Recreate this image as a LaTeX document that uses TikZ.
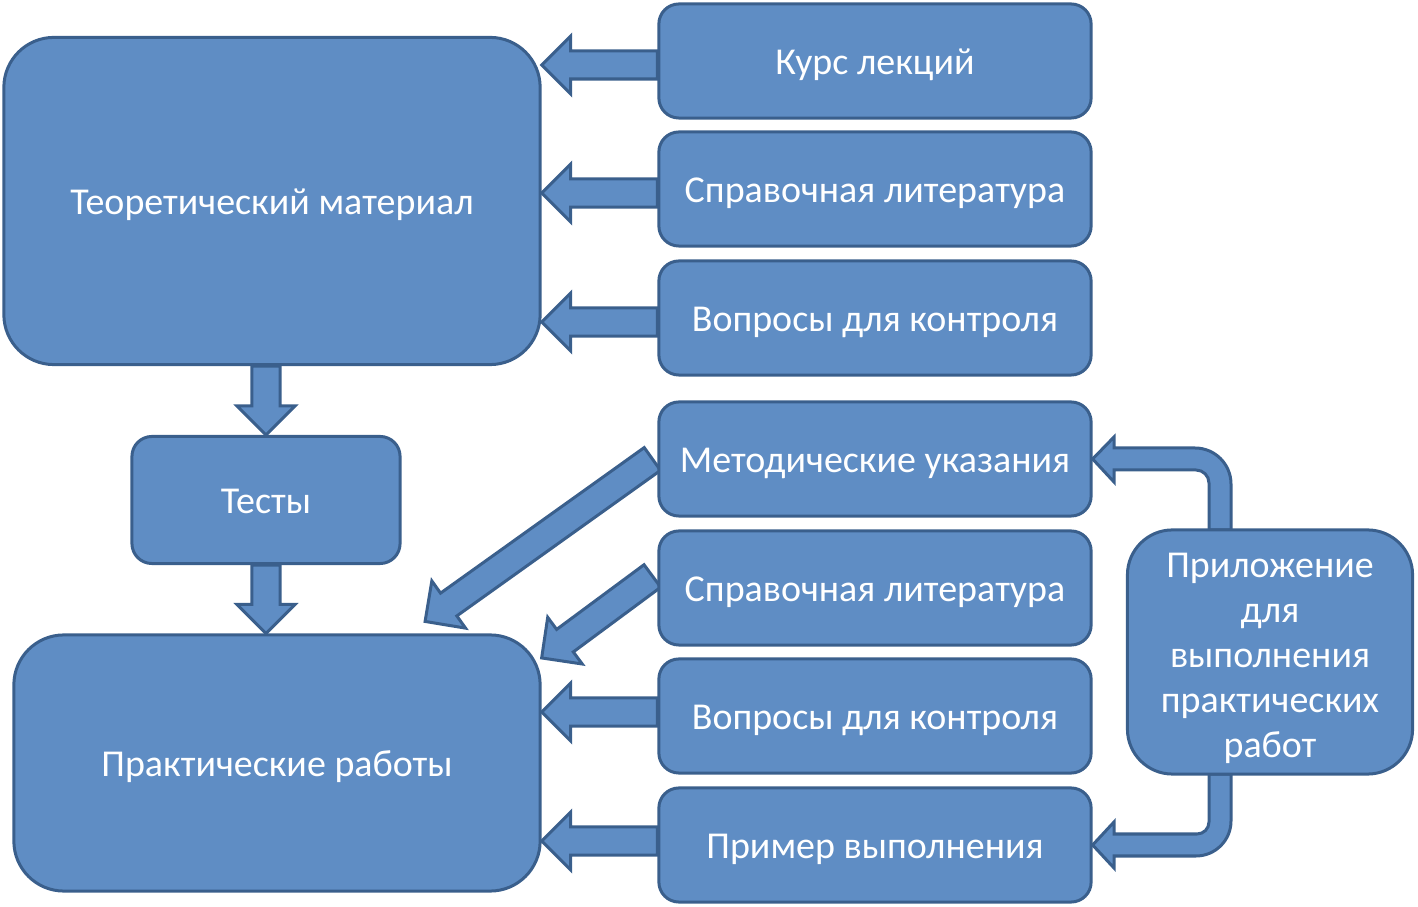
\documentclass[tikz,border=0pt]{standalone}
\usepackage{fontspec}
\setmainfont{Carlito}
\usetikzlibrary{calc,backgrounds}

\definecolor{boxfill}{RGB}{95,141,196}
\definecolor{boxline}{RGB}{58,95,140}

\tikzset{
  blk/.style={draw=boxline, fill=boxfill, line width=0.03cm, text=white, align=center,
    rounded corners=0.2cm, minimum width=4.32cm, minimum height=1.14cm, inner sep=0pt,
    text height=9.9pt, text depth=2.5pt},
  bigblk/.style={blk, rounded corners=0.5cm},
  barrow/.style={draw=boxline, fill=boxfill, line width=0.03cm, line join=miter},
}

\newcommand{\blockarrow}[2]{%
  \coordinate (bh) at ($(#2)!0.29cm!(#1)$);
  \filldraw[barrow] ($(#1)!0.14cm!90:(#2)$) -- ($(bh)!0.14cm!90:(#2)$) -- ($(bh)!0.29cm!90:(#2)$)
    -- (#2) -- ($(bh)!0.29cm!-90:(#2)$) -- ($(bh)!0.14cm!-90:(#2)$) -- ($(#1)!0.14cm!-90:(#2)$) -- cycle;}

\begin{document}
\begin{tikzpicture}[x=0.01cm, y=-0.01cm, every node/.style={font=\fontsize{10.8pt}{12.8pt}\selectfont}]

\useasboundingbox (0,0) rectangle (1418,907);

\node[bigblk, minimum width=5.36cm, minimum height=3.27cm] (theory) at (272,201) {Теоретический материал};
\node[blk, minimum width=2.68cm, minimum height=1.27cm] (tests) at (266,500) {Тесты};
\node[bigblk, minimum width=5.26cm, minimum height=2.56cm] (practice) at (277,763) {Практические работы};

\node[blk] (lect) at (875,61) {Курс лекций};
\node[blk] (ref1) at (875,189) {Справочная литература};
\node[blk] (quest1) at (875,318) {Вопросы для контроля};
\node[blk] (guide) at (875,459) {Методические указания};
\node[blk] (ref2) at (875,588) {Справочная литература};
\node[blk] (quest2) at (875,716) {Вопросы для контроля};
\node[blk] (sample) at (875,845) {Пример выполнения};

\node[blk, rounded corners=0.45cm, minimum width=2.85cm, minimum height=2.44cm] (app) at (1270,652) {};
\node[text=white, align=center, inner sep=0pt] (apptext) at ([yshift=-0.06cm]app.center)
  {Приложение\\для\\выполнения\\практических\\работ};

\begin{scope}[on background layer]
\foreach \src/\dst/\dy in {lect/theory/-0.04, ref1/theory/-0.04, quest1/theory/-0.04,
    quest2/practice/0.04, sample/practice/0.04} {
  \coordinate (tl) at ([yshift=\dy cm]\src.west);
  \coordinate (tp) at (tl -| \dst.east);
  \blockarrow{tl}{tp}
}

\coordinate (d1) at (tests.north |- theory.south);
\blockarrow{d1}{tests.north}
\coordinate (d2) at (tests.south |- practice.north);
\blockarrow{tests.south}{d2}

\coordinate (g1) at ([xshift=-0.05cm]guide.west);
\coordinate (g2) at ([xshift=1.48cm, yshift=0.12cm]practice.north);
\blockarrow{g1}{g2}
\coordinate (r1) at ([xshift=-0.05cm, yshift=0.12cm]ref2.west);
\coordinate (r2) at ([yshift=1.05cm]practice.east);
\blockarrow{r1}{r2}

% bent arrows from the appendix box
\filldraw[barrow] (1209,530) -- (1209,483) arc[start angle=0, end angle=-90, radius=13]
  -- (1114,470) -- (1114,482) -- (guide.east) -- (1114,437) -- (1114,448) -- (1195,448)
  arc[start angle=-90, end angle=0, radius=36] -- (1231,530) -- cycle;
\filldraw[barrow] (1209,774) -- (1209,822) arc[start angle=0, end angle=90, radius=12]
  -- (1114,834) -- (1114,822) -- (sample.east) -- (1114,868) -- (1114,856) -- (1196,856)
  arc[start angle=90, end angle=0, radius=35] -- (1231,774) -- cycle;
\end{scope}

\end{tikzpicture}
\end{document}
